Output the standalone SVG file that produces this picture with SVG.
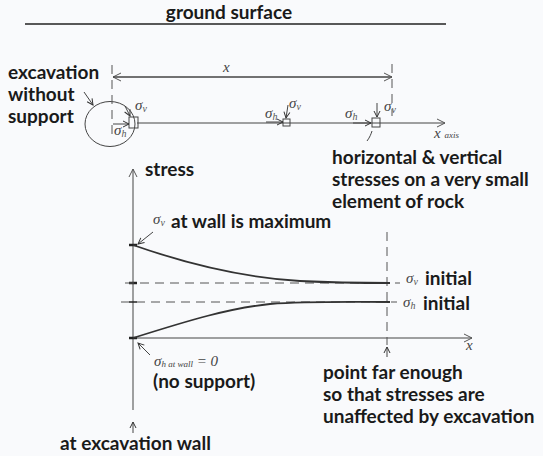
<svg xmlns="http://www.w3.org/2000/svg" width="543" height="456" viewBox="0 0 543 456">
<defs>
<style>
.lbl{font-family:Lato,"Liberation Sans",sans-serif;font-weight:bold;font-size:19px;fill:#1a1a1a}
.hw{font-family:"Liberation Serif",serif;font-style:italic;font-size:15px;fill:#444}
.hs{font-family:"Liberation Serif",serif;font-style:italic;font-size:10px;fill:#555}
.ln{stroke:#444;stroke-width:1;fill:none}
.dash{stroke:#555;stroke-width:1;fill:none;stroke-dasharray:9,6}
.curve{stroke:#333;stroke-width:1.8;fill:none}
</style>
<marker id="oa" markerWidth="10" markerHeight="10" refX="9" refY="5" orient="auto" markerUnits="userSpaceOnUse">
<path d="M1,1 L9,5 L1,9" fill="none" stroke="#555" stroke-width="1"/>
</marker>
<marker id="sa" markerWidth="8" markerHeight="8" refX="7" refY="4" orient="auto" markerUnits="userSpaceOnUse">
<path d="M1,1 L7,4 L1,7" fill="none" stroke="#333" stroke-width="1"/>
</marker>
</defs>
<rect width="543" height="456" fill="#f9fafc"/>

<g id="ground">
<text class="lbl" x="229" y="19" text-anchor="middle" font-size="18">ground surface</text>
<line x1="25" y1="24" x2="446" y2="24" stroke="#222" stroke-width="1.5"/>
</g>

<g id="excavation">
<text class="lbl" x="8" y="79">excavation</text>
<text class="lbl" x="8" y="101">without</text>
<text class="lbl" x="8" y="123">support</text>
<ellipse class="ln" cx="110" cy="124" rx="25" ry="22.5"/>
<line class="ln" x1="84" y1="92" x2="93" y2="105" marker-end="url(#sa)"/>
</g>

<g id="axis-top">
<line class="dash" x1="112" y1="65" x2="112" y2="136"/>
<line class="dash" x1="392" y1="64" x2="392" y2="116"/>
<line class="ln" x1="137" y1="123" x2="445" y2="123" marker-end="url(#oa)"/>
<text class="hw" x="434" y="138" font-size="12">x <tspan font-size="9">axis</tspan></text>
</g>

<g id="dimension-x">
<line class="ln" x1="392" y1="77" x2="113" y2="77" marker-end="url(#oa)"/>
<line class="ln" x1="113" y1="77" x2="392" y2="77" marker-end="url(#oa)"/>
<text class="hw" x="223" y="72" font-size="17">x</text>
</g>

<g id="element-wall">
<rect class="ln" x="129" y="117" width="9" height="11"/>
<line class="ln" x1="113" y1="124" x2="129" y2="124" marker-end="url(#sa)"/>
<line class="ln" x1="125" y1="106" x2="130" y2="116" marker-end="url(#sa)"/>
<text class="hw" x="135" y="110">σ<tspan class="hs" dy="2">v</tspan></text>
<text class="hw" x="114" y="135">σ<tspan class="hs" dy="2">h</tspan></text>
</g>

<g id="element-mid">
<rect class="ln" x="283" y="119" width="7" height="7"/>
<line class="ln" x1="266" y1="122" x2="283" y2="122" marker-end="url(#sa)"/>
<line class="ln" x1="288" y1="105" x2="286" y2="118" marker-end="url(#sa)"/>
<text class="hw" x="289" y="108">σ<tspan class="hs" dy="2">v</tspan></text>
<text class="hw" x="265" y="118">σ<tspan class="hs" dy="2">h</tspan></text>
</g>

<g id="element-far">
<rect class="ln" x="372" y="118" width="8" height="9"/>
<line class="ln" x1="353" y1="123" x2="371" y2="123" marker-end="url(#sa)"/>
<line class="ln" x1="377" y1="103" x2="377" y2="117" marker-end="url(#sa)"/>
<text class="hw" x="384" y="111">σ<tspan class="hs" dy="2">v</tspan></text>
<text class="hw" x="345" y="118">σ<tspan class="hs" dy="2">h</tspan></text>
<path class="ln" d="M372,131 C371,134 370,137 367,141"/>
</g>

<g id="element-note">
<text class="lbl" x="332" y="164">horizontal &amp; vertical</text>
<text class="lbl" x="332" y="186">stresses on a very small</text>
<text class="lbl" x="332" y="208">element of rock</text>
</g>

<g id="graph-axes">
<line class="ln" x1="133" y1="410" x2="133" y2="169" marker-end="url(#oa)"/>
<line class="ln" x1="133" y1="338" x2="472" y2="338" marker-end="url(#oa)"/>
<text class="hw" x="466" y="350" font-size="12">x</text>
<text class="lbl" x="145" y="176">stress</text>
<line x1="129" y1="245" x2="137" y2="245" stroke="#222" stroke-width="2.5"/>
<line x1="129" y1="283" x2="137" y2="283" stroke="#222" stroke-width="2.5"/>
<line x1="129" y1="302" x2="137" y2="302" stroke="#222" stroke-width="1.5"/>
<line x1="129" y1="338" x2="137" y2="338" stroke="#222" stroke-width="2.5"/>
</g>

<g id="initial-lines">
<line class="dash" x1="125" y1="283" x2="400" y2="283"/>
<line class="dash" x1="121" y1="302" x2="397" y2="302"/>
<line class="dash" x1="387" y1="232" x2="387" y2="345"/>
</g>

<g id="curves">
<path class="curve" d="M133,245 C190,265 250,278 300,281 C340,283 370,283 390,283"/>
<path class="curve" d="M133,338 C190,320 230,308 270,304 C310,301 350,302 390,302"/>
</g>

<g id="label-vmax">
<text class="hw" x="153" y="224" font-size="17">σ<tspan class="hs" dy="2">v</tspan></text>
<text class="lbl" x="171" y="228">at wall is maximum</text>
<line class="ln" x1="153" y1="232" x2="138" y2="244" marker-end="url(#sa)"/>
</g>

<g id="label-vinit">
<text class="hw" x="406" y="283" font-size="17">σ<tspan class="hs" dy="2">v</tspan></text>
<text class="lbl" x="425" y="285">initial</text>
</g>

<g id="label-hinit">
<text class="hw" x="403" y="307" font-size="17">σ<tspan class="hs" dy="2">h</tspan></text>
<text class="lbl" x="423" y="310">initial</text>
</g>

<g id="label-hwall">
<line class="ln" x1="150" y1="355" x2="138" y2="343" marker-end="url(#sa)"/>
<text class="hw" x="154" y="366" font-size="14">σ<tspan font-size="9" dy="1">h at wall</tspan><tspan dy="-1"> = 0</tspan></text>
<text class="lbl" x="153" y="388">(no support)</text>
</g>

<g id="label-far">
<line class="ln" x1="387" y1="357" x2="387" y2="347" marker-end="url(#sa)"/>
<text class="lbl" x="323" y="379">point far enough</text>
<text class="lbl" x="323" y="401">so that stresses are</text>
<text class="lbl" x="323" y="423">unaffected by excavation</text>
</g>

<g id="label-wall">
<line class="ln" x1="133" y1="433" x2="133" y2="422" marker-end="url(#sa)"/>
<text class="lbl" x="60" y="450">at excavation wall</text>
</g>
</svg>
